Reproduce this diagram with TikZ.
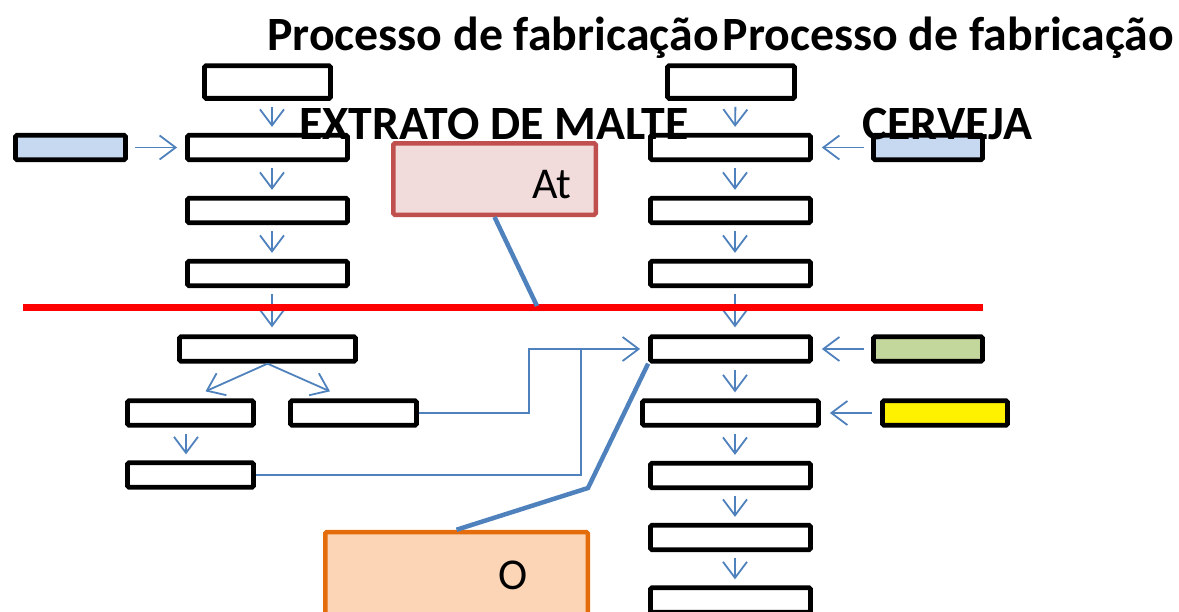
\documentclass[tikz,border=0pt]{standalone}
\usepackage{fontspec}
\setmainfont{Carlito}
\usetikzlibrary{arrows.meta,calc}
\definecolor{lnblue}{HTML}{4F81BD}
\definecolor{inblue}{HTML}{C6D9F1}
\definecolor{ingreen}{HTML}{C3D69B}
\definecolor{atfill}{HTML}{F2DCDB}
\definecolor{atdraw}{HTML}{C0504D}
\definecolor{ofill}{HTML}{FBD5B5}
\definecolor{odraw}{HTML}{E46C0A}

\begin{document}
\begin{tikzpicture}[x=1pt,y=-1pt,
  box/.style={draw,line width=4.8pt,rounded corners=1.5pt,inner sep=0pt,minimum width=160pt,minimum height=24.5pt},
  flow/.style={draw=lnblue,line width=1.8pt,-{Straight Barb[length=16pt,width=24pt,line width=1.8pt]},shorten <=6pt,shorten >=6pt},
  feed/.style={draw=lnblue,line width=1.6pt},
  link/.style={draw=lnblue,line width=4.5pt},
  title/.style={font=\bfseries\fontsize{47.8}{50}\selectfont,inner sep=0pt},
  note/.style={font=\fontsize{44}{46}\selectfont,inner sep=0pt}]
\useasboundingbox (0,0) rectangle (1179,611);
\node[box,minimum width=126pt,minimum height=32.7pt] (l1) at (267.5,82) {};
\node[box] (l2) at (267.5,147.5) {};
\node[box] (l3) at (267.5,210.5) {};
\node[box] (l4) at (267.5,273.5) {};
\node[box,minimum width=176pt] (l5) at (267.5,349) {};
\node[box,minimum width=126pt] (l6a) at (190.5,413) {};
\node[box,minimum width=126pt] (l6b) at (353.5,413) {};
\node[box,minimum width=126pt] (l7) at (190.5,475) {};
\node[box,fill=inblue,minimum width=110pt] (in1) at (70.5,147.5) {};
\node[box,minimum width=127pt,minimum height=32.7pt] (r1) at (731,82) {};
\node[box] (r2) at (730.5,147.5) {};
\node[box] (r3) at (730.5,210.5) {};
\node[box] (r4) at (730.5,273.5) {};
\node[box] (r5) at (730.5,349) {};
\node[box,minimum width=176pt] (r6) at (730.5,413) {};
\node[box] (r7) at (730.5,475.5) {};
\node[box] (r8) at (730.5,537.5) {};
\node[box] (r9) at (730.5,600) {};
\node[box,fill=inblue,minimum width=109pt] (in2) at (928,147.5) {};
\node[box,fill=ingreen,minimum width=109pt] (in3) at (928,349) {};
\node[box,fill=yellow,minimum width=125pt] (in4) at (945,413) {};
\draw[flow] ([xshift=4.5pt]l1.south) -- ([xshift=4.5pt]l2.north);
\draw[flow] ([xshift=4.5pt]l2.south) -- ([xshift=4.5pt]l3.north);
\draw[flow] ([xshift=4.5pt]l3.south) -- ([xshift=4.5pt]l4.north);
\draw[flow,shorten >=7pt] ([xshift=4.5pt]l4.south) -- ([xshift=4.5pt]l5.north);
\draw[flow,shorten >=0pt,shorten <=0pt] (l5.south) -- ($(l6a.north)+(15,-7)$);
\draw[flow,shorten >=0pt,shorten <=0pt] (l5.south) -- ($(l6b.north)+(-23.5,-7)$);
\draw[flow] ([xshift=-4.5pt]l6a.south) -- ([xshift=-4.5pt]l7.north);
\draw[flow,shorten <=7pt,shorten >=8pt] (in1) -- (l2);
\draw[flow,shorten <=0pt,shorten >=8pt] (l6b.east) -- ++(110,0) |- (r5.west);
\draw[feed] (l7.east) -| ($(r5.west)+(-67,0)$);
\draw[flow] ([xshift=4.5pt]r1.south) -- ([xshift=4.5pt]r2.north);
\draw[flow] ([xshift=4.5pt]r2.south) -- ([xshift=4.5pt]r3.north);
\draw[flow] ([xshift=4.5pt]r3.south) -- ([xshift=4.5pt]r4.north);
\draw[flow,shorten >=7pt] ([xshift=4.5pt]r4.south) -- ([xshift=4.5pt]r5.north);
\draw[flow] ([xshift=4.5pt]r5.south) -- ([xshift=4.5pt]r6.north);
\draw[flow] ([xshift=4.5pt]r6.south) -- ([xshift=4.5pt]r7.north);
\draw[flow] ([xshift=4.5pt]r7.south) -- ([xshift=4.5pt]r8.north);
\draw[flow] ([xshift=4.5pt]r8.south) -- ([xshift=4.5pt]r9.north);
\draw[flow,shorten <=7pt,shorten >=9pt] (in2) -- (r2);
\draw[flow,shorten <=7pt,shorten >=9pt] (in3) -- (r5);
\draw[flow,shorten <=8pt,shorten >=9pt] (in4) -- (r6);
\draw[red,line width=7pt] (23,307.5) -- (983,307.5);
\coordinate (hit) at (537,306);
\coordinate (bend) at (588,488);
\node[box,draw=atdraw,fill=atfill,line width=4.5pt,minimum width=202.5pt,minimum height=71.5pt] (at) at (494.5,179) {};
\node[note] (attext) at (552,185) {At};
\node[box,draw=odraw,fill=ofill,line width=4.5pt,minimum width=262.5pt,minimum height=120pt] (o) at (456.5,592) {};
\node[note] (otext) at (513,575) {O};
\draw[link] (at.south) -- (hit);
\draw[link] (o.north) -- (bend) -- (r5.south west);
\node[title] (t1) at (493,38) {Processo de fabricação};
\node[title] (t2) at (948.5,38) {Processo de fabricação};
\node[title] (t3) at (494,124) {EXTRATO DE MALTE};
\node[title] (t4) at (947.5,124) {CERVEJA};
\end{tikzpicture}
\end{document}
